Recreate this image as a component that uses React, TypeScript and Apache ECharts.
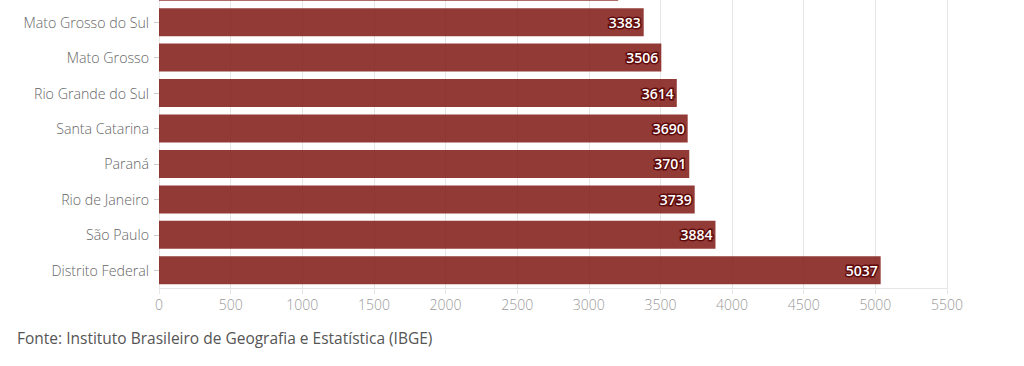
import React, { useEffect, useRef } from "react";
import * as echarts from "echarts";

const categories = ["", "Mato Grosso do Sul", "Mato Grosso", "Rio Grande do Sul", "Santa Catarina", "Paraná", "Rio de Janeiro", "São Paulo", "Distrito Federal"];
const values = [3205, 3383, 3506, 3614, 3690, 3701, 3739, 3884, 5037];
const xTicks = [0, 500, 1000, 1500, 2000, 2500, 3000, 3500, 4000, 4500, 5000, 5500];
const sourceText = "Fonte: Instituto Brasileiro de Geografia e Estatística (IBGE)";

export default function App() {
  const ref = useRef<HTMLDivElement>(null);
  useEffect(() => {
    if (!ref.current) return;
    const chart = echarts.init(ref.current, null, { renderer: "svg" });
    chart.setOption({
      animation: false,
      textStyle: { fontFamily: "Open Sans" },
      grid: { left: 159, right: 77, top: 0, bottom: 78, containLabel: false },
      xAxis: {
        type: "value",
        min: xTicks[0],
        max: xTicks[xTicks.length - 1],
        interval: 500,
        axisLine: { show: true, lineStyle: { color: "#e6e6e6" } },
        axisTick: { show: true, length: 6, lineStyle: { color: "#e6e6e6" } },
        splitLine: { show: true, lineStyle: { color: "#e6e6e6" } },
        axisLabel: {
          color: "#999999",
          fontSize: 14,
          margin: 9,
          fontWeight: 300,
          fontFamily: "Open Sans",
          formatter: (v: number) => String(v),
        },
      },
      yAxis: {
        type: "category",
        data: categories,
        inverse: true,
        axisLine: { show: false },
        axisTick: { show: true, alignWithLabel: true, length: 5, lineStyle: { color: "#cccccc" } },
        axisLabel: { color: "#666666", fontSize: 14.2, margin: 10, fontWeight: 300, fontFamily: "Open Sans" },
      },
      series: [
        {
          type: "bar",
          z: 3,
          data: values.map((v, i) => ({
            value: v,
            label: { show: i !== 0 },
          })),
          barWidth: 28,
          itemStyle: { color: "rgba(127,23,19,0.85)" },
          label: {
            show: true,
            position: "insideRight",
            distance: 3,
            color: "#ffffff",
            fontWeight: 600,
            fontSize: 14,
            fontFamily: "Open Sans",
            textBorderColor: "#5e0a0a",
            textBorderWidth: 3,
          },
        },
      ],
      graphic: [
        {
          type: "text",
          left: 17,
          top: 361,
          style: { text: sourceText, fill: "#555555", fontSize: 15.5, fontWeight: 400, fontFamily: "Open Sans" },
        },
      ],
    });
    return () => chart.dispose();
  }, []);
  return (
    <div style={{ position: "fixed", left: 0, top: 0, width: 1024, height: 366, overflow: "hidden", background: "#ffffff" }}>
      <div ref={ref} style={{ position: "absolute", left: 0, top: -31, width: 1024, height: 397 }} />
    </div>
  );
}
